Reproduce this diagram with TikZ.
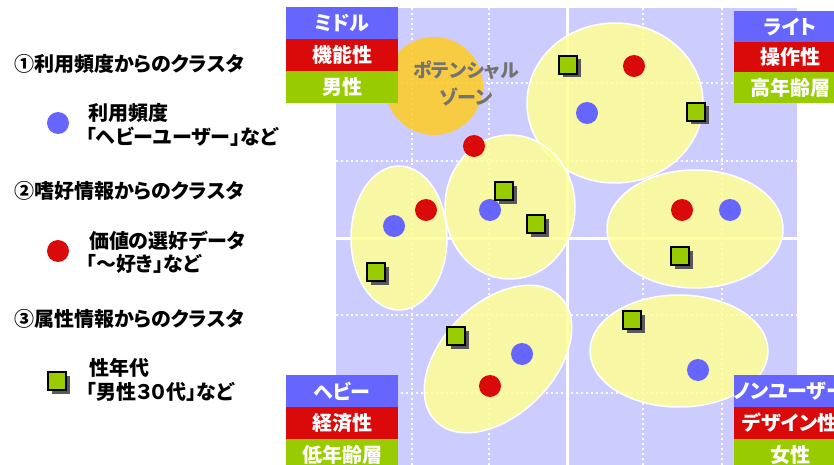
\documentclass[tikz,border=0pt]{standalone}
\usepackage{fontspec}
\setmainfont{Noto Sans CJK JP}[RawFeature=+palt]
\usetikzlibrary{shapes.geometric,shadows}
\definecolor{lav}{RGB}{204,204,255}
\definecolor{cblue}{RGB}{102,102,255}
\definecolor{cred}{RGB}{218,10,10}
\definecolor{cgreen}{RGB}{153,204,0}
\definecolor{cyel}{RGB}{255,255,150}
\definecolor{cgold}{RGB}{255,204,40}
\definecolor{ptxt}{RGB}{115,115,115}
\begin{document}
\begin{tikzpicture}[x=1pt,y=-1pt,
  every node/.style={inner sep=0pt, outer sep=0pt},
  lbl/.style={anchor=west, font=\fontsize{20}{24}\selectfont\bfseries, text=black},
  bdot/.style={circle, fill=cblue, minimum size=22pt},
  rdot/.style={circle, fill=cred, minimum size=22pt},
  gsq/.style={rectangle, draw=black, line width=2pt, fill=cgreen, minimum size=18pt,
    drop shadow={shadow xshift=3.5pt, shadow yshift=-3.5pt, fill=black!65, opacity=1}},
  clus/.style={ellipse, draw=white, line width=1.5pt, fill=cyel, fill opacity=0.86},
  tagbox/.style={rectangle, minimum width=112pt, minimum height=32pt, text=white,
    font=\fontsize{20}{22}\selectfont\bfseries},
  gridline/.style={white, line width=2pt, dash pattern=on 2pt off 3pt},
  axisline/.style={white, line width=3pt}]
\useasboundingbox (0,0) rectangle (834,465);
\clip (0,0) rectangle (834,465);
\fill[white] (0,0) rectangle (834,465);
% background field
\fill[lav] (336,8) rectangle (797,465);
\foreach \gx in {412,489,643,722} \draw[gridline] (\gx,8) -- (\gx,465);
\foreach \gy in {83,161,315,393} \draw[gridline] (336,\gy) -- (797,\gy);
\draw[axisline] (567,8) -- (567,465);
\draw[axisline] (336,238) -- (797,238);
% potential zone
\node[circle, fill=cgold, fill opacity=0.88, minimum size=98pt] (pz) at (434,86) {};
\node[font=\fontsize{19}{27}\selectfont\bfseries, text=ptxt, align=center] (pztxt) at (466,83) {ポテンシャル\\ゾーン};
% clusters
\node[clus, minimum width=176pt, minimum height=160pt] (c1) at (615,103) {};
\node[clus, minimum width=96pt, minimum height=144pt] (c2) at (399,238) {};
\node[clus, minimum width=130pt, minimum height=144pt] (c3) at (510,207) {};
\node[clus, minimum width=176pt, minimum height=118pt] (c4) at (695,229) {};
\node[clus, minimum width=176pt, minimum height=112pt, rotate=45] (c5) at (498,359) {};
\node[clus, minimum width=178pt, minimum height=112pt] (c6) at (679,351) {};
% points
\node[bdot] (b1) at (587,113) {};
\node[rdot] (r1) at (634,66) {};
\node[gsq] (g1) at (568,65) {};
\node[gsq] (g2) at (696,112) {};
\node[rdot] (r2) at (474,146) {};
\node[bdot] (b2) at (490,210) {};
\node[gsq] (g3) at (504,191) {};
\node[gsq] (g4) at (536,224) {};
\node[rdot] (r3) at (426,210) {};
\node[bdot] (b3) at (394,226) {};
\node[gsq] (g5) at (376,272) {};
\node[rdot] (r4) at (682,210) {};
\node[bdot] (b4) at (730,210) {};
\node[gsq] (g6) at (680,256) {};
\node[gsq] (g7) at (456,336) {};
\node[bdot] (b5) at (522,354) {};
\node[rdot] (r5) at (490,386) {};
\node[gsq] (g8) at (632,320) {};
\node[bdot] (b6) at (698,370) {};
% corner tags
\node[tagbox, fill=cblue, anchor=north west] (tl1) at (286,7) {ミドル};
\node[tagbox, fill=cred, anchor=north] (tl2) at (tl1.south) {機能性};
\node[tagbox, fill=cgreen, anchor=north] (tl3) at (tl2.south) {男性};
\node[tagbox, fill=cblue, anchor=north west, minimum height=31pt] (tr1) at (734,11) {ライト};
\node[tagbox, fill=cred, anchor=north, minimum height=30pt] (tr2) at (tr1.south) {操作性};
\node[tagbox, fill=cgreen, anchor=north, minimum height=31pt] (tr3) at (tr2.south) {高年齢層};
\node[tagbox, fill=cblue, anchor=north west] (bl1) at (286,375) {ヘビー};
\node[tagbox, fill=cred, anchor=north] (bl2) at (bl1.south) {経済性};
\node[tagbox, fill=cgreen, anchor=north] (bl3) at (bl2.south) {低年齢層};
\node[tagbox, fill=cblue, anchor=north west] (br1) at (734,375) {ノンユーザー};
\node[tagbox, fill=cred, anchor=north] (br2) at (br1.south) {デザイン性};
\node[tagbox, fill=cgreen, anchor=north] (br3) at (br2.south) {女性};
% legend
\node[lbl] (h1) at (14,64) {①利用頻度からのクラスタ};
\node[bdot] (lb) at (58,123) {};
\node[lbl] (t1a) at (88,113) {利用頻度};
\node[lbl] (t1b) at (86,137) {「ヘビーユーザー」など};
\node[lbl] (h2) at (14,191) {②嗜好情報からのクラスタ};
\node[rdot] (lr) at (58,251) {};
\node[lbl] (t2a) at (89,241) {価値の選好データ};
\node[lbl] (t2b) at (86,264) {「～好き」など};
\node[lbl] (h3) at (14,319) {③属性情報からのクラスタ};
\node[gsq] (lg) at (57,381) {};
\node[lbl] (t3a) at (89,368) {性年代};
\node[lbl] (t3b) at (86,392) {「男性３０代」など};
\end{tikzpicture}
\end{document}
